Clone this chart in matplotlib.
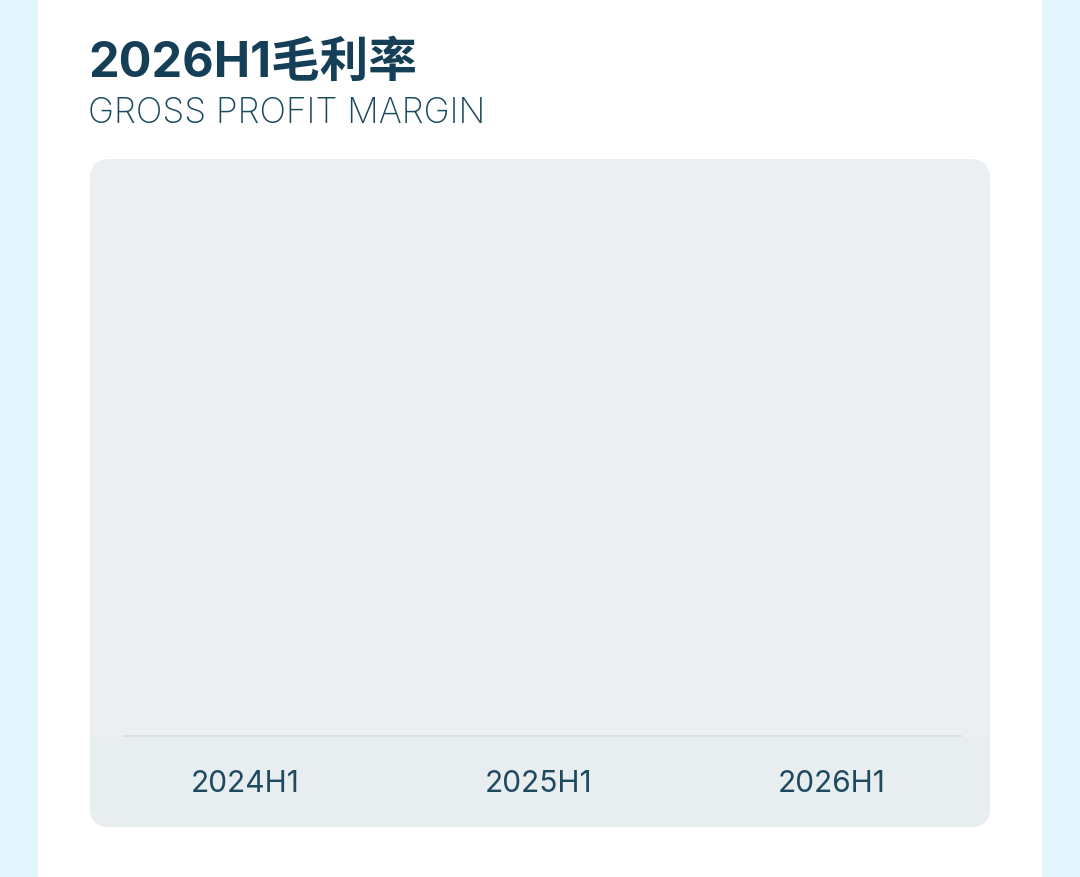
import matplotlib
matplotlib.use("Agg")
import matplotlib.pyplot as plt
import matplotlib.patches as mpatches

# data: periods shown, no margin values are drawn in the reference
periods = ["2024H1", "2025H1", "2026H1"]
margin = [0, 0, 0]

title = "2026H1毛利率"
subtitle = "GROSS PROFIT MARGIN"

W, H = 1080, 877
ink = "#143F56"

fig = plt.figure(figsize=(W / 100, H / 100), dpi=100)
fig.patch.set_facecolor("#E3F6FD")

# full-figure axes in pixel units for the card and panel
bg = fig.add_axes([0, 0, 1, 1])
bg.set_xlim(0, W)
bg.set_ylim(H, 0)
bg.set_axis_off()

bg.add_patch(mpatches.Rectangle((38, 0), 1004, H, facecolor="white", edgecolor="none"))
panel = mpatches.FancyBboxPatch((90, 159), 900, 668, boxstyle="round,pad=0,rounding_size=20",
                                facecolor="#EBEFF2", edgecolor="none")
bg.add_patch(panel)
low = mpatches.Rectangle((90, 737), 900, 90, facecolor="#E8EDF0", edgecolor="none")
bg.add_patch(low)
low.set_clip_path(panel)

bg.text(88, 77, title, fontsize=35, fontweight="bold", color=ink,
        family=["Inter", "Noto Sans CJK SC"], va="baseline", ha="left")
bg.text(88, 123, subtitle, fontsize=25.3, fontweight="light", color="#1A4A60",
        family=["Inter", "DejaVu Sans"], va="baseline", ha="left")

# chart axes: from x=123 to 961, y=160 to 736 px
ax = fig.add_axes([123 / W, 1 - 736 / H, (961 - 123) / W, (736 - 160) / H])
ax.set_facecolor("none")
x = list(range(len(periods)))
ax.bar(x, margin, width=0.5, color="#2A8FBF")
span = (961 - 123) / 293.5
xmin = -(245 - 123) / 293.5
ax.set_xlim(xmin, xmin + span)
ax.set_ylim(0, 1)
for s in ["top", "left", "right"]:
    ax.spines[s].set_visible(False)
ax.spines["bottom"].set_color("#D3DCE0")
ax.spines["bottom"].set_linewidth(1.1)
ax.set_yticks([])
ax.set_xticks(x)
ax.set_xticklabels(periods, fontsize=21.5, color="#1E4A60", family=["Inter", "DejaVu Sans"])
ax.tick_params(axis="x", length=0, pad=24.5)

fig.savefig("out.png", dpi=100, facecolor=fig.get_facecolor())
